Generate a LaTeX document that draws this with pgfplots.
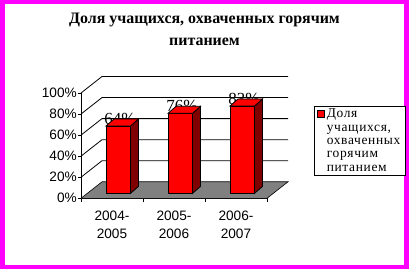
\documentclass[border=0pt]{standalone}
\usepackage{pgfplots}
\usepackage{pgfplotstable}
\pgfplotsset{compat=1.18}
\usepackage{fontspec}
\setmainfont{Liberation Serif}
\newfontfamily\arialf{Liberation Sans}
\newfontfamily\legf[LetterSpace=5]{Liberation Serif}
\definecolor{magb}{RGB}{255,0,255}
\definecolor{barred}{RGB}{255,0,0}
\definecolor{barside}{RGB}{128,0,0}
\definecolor{floorgray}{RGB}{128,128,128}

\pgfplotstableread{
x y
0 64
1 76
2 83
}\datatable

\newcommand\myyu{1.053}
\newcommand\myDx{21}
\newcommand\myDy{16.5}
\newcommand\mybw{24.5}
\newcommand\mybdx{8}
\newcommand\mybdy{7}
\newcommand\myfx{6.3}
\newcommand\myfy{4.95}

\pgfdeclareplotmark{bar3d}{%
  \pgfmathsetmacro\myhh{\ry*\myyu}%
  \pgfmathsetmacro\myxl{-\mybw/2+\myfx}%
  \pgfmathsetmacro\myxr{\mybw/2+\myfx}%
  \pgfmathsetmacro\myyb{-\myhh+\myfy}%
  \pgfmathsetmacro\myyt{\myfy}%
  \pgfmathsetmacro\myxrr{\myxr+\mybdx}%
  \pgfmathsetmacro\myxlr{\myxl+\mybdx}%
  \pgfmathsetmacro\myybr{\myyb+\mybdy}%
  \pgfmathsetmacro\myytr{\myyt+\mybdy}%
  \pgfsetlinewidth{0.8bp}%
  \pgfsetstrokecolor{black}%
  \pgfsetfillcolor{barred}%
  \pgfpathrectanglecorners{\pgfpoint{\myxl bp}{\myyb bp}}{\pgfpoint{\myxr bp}{\myyt bp}}%
  \pgfusepath{fill,stroke}%
  \pgfsetfillcolor{barside}%
  \pgfpathmoveto{\pgfpoint{\myxr bp}{\myyb bp}}%
  \pgfpathlineto{\pgfpoint{\myxrr bp}{\myybr bp}}%
  \pgfpathlineto{\pgfpoint{\myxrr bp}{\myytr bp}}%
  \pgfpathlineto{\pgfpoint{\myxr bp}{\myyt bp}}%
  \pgfpathclose
  \pgfusepath{fill,stroke}%
  \pgfsetfillcolor{barred}%
  \pgfpathmoveto{\pgfpoint{\myxl bp}{\myyt bp}}%
  \pgfpathlineto{\pgfpoint{\myxr bp}{\myyt bp}}%
  \pgfpathlineto{\pgfpoint{\myxrr bp}{\myytr bp}}%
  \pgfpathlineto{\pgfpoint{\myxlr bp}{\myytr bp}}%
  \pgfpathclose
  \pgfusepath{fill,stroke}%
}

\begin{document}
\begin{tikzpicture}
\fill[magb] (0,0) rectangle (409bp,269bp);
\fill[white] (4.5bp,4bp) rectangle (404bp,264.5bp);
\begin{axis}[
  at={(81bp,70.7bp)}, anchor=south west,
  x=62bp, y=1.053bp,
  xmin=-0.5, xmax=2.5, ymin=0, ymax=100,
  axis lines*=left,
  axis line style={black, line width=0.8bp},
  clip=false,
  xtick={0,1,2},
  xticklabels={{2004-\\2005},{2005-\\2006},{2006-\\2007}},
  minor xtick={-0.5,0.5,1.5,2.5},
  major x tick style={draw=none},
  ytick={0,20,40,60,80,100},
  yticklabel={\pgfmathprintnumber{\tick}\%},
  tick align=outside,
  major tick length=3bp, minor tick length=4bp,
  tick style={black, line width=0.8bp},
  /pgf/number format/assume math mode=true,
  xticklabel style={align=center, font=\arialf\fontsize{13.7}{18.3}\selectfont, inner sep=1bp, yshift=-8bp},
  yticklabel style={font=\arialf\fontsize{13.7}{16}\selectfont, inner sep=1bp},
  title={Доля учащихся, охваченных горячим\\питанием},
  title style={at={(0.664,1.551)}, anchor=center, align=center, font=\bfseries\fontsize{16}{22}\selectfont},
  legend style={at={(1.252,0.88)}, anchor=north west, draw=black, line width=0.6bp,
    inner xsep=3bp, inner ysep=1bp, font=\legf\fontsize{13.5}{13.4}\selectfont, cells={align=left}},
  legend cell align=left,
]
\fill[floorgray, draw=black, line width=0.6bp] (axis cs:-0.5,0) -- ++(\myDx bp,\myDy bp) -- ([shift={(\myDx bp,\myDy bp)}]axis cs:2.5,0) -- (axis cs:2.5,0) -- cycle;
\pgfplotsinvokeforeach{20,40,60,80,100}{
  \draw[black, line width=0.8bp] (axis cs:-0.5,#1) -- ++(\myDx bp,\myDy bp) -- ([shift={(\myDx bp,\myDy bp)}]axis cs:2.5,#1);
}
\addplot[forget plot, draw=none, point meta=y,
  nodes near coords={\pgfmathprintnumber{\pgfplotspointmeta}\%},
  every node near coord/.append style={anchor=base, xshift=8bp, yshift=6.5bp, font=\fontsize{17}{17}\selectfont, inner sep=0pt, text=black}]
  table[x=x, y=y] {\datatable};
\addplot[only marks, mark=bar3d, visualization depends on={\thisrow{y} \as \ry},
  legend image code/.code={\draw[black, line width=0.6bp, fill=barred] (0bp,23.3bp) rectangle (7bp,30.3bp);}]
  table[x=x, y=y] {\datatable};
\addlegendentry{Доля\\учащихся,\\охваченных\\горячим\\питанием}
\end{axis}
\end{tikzpicture}
\end{document}
